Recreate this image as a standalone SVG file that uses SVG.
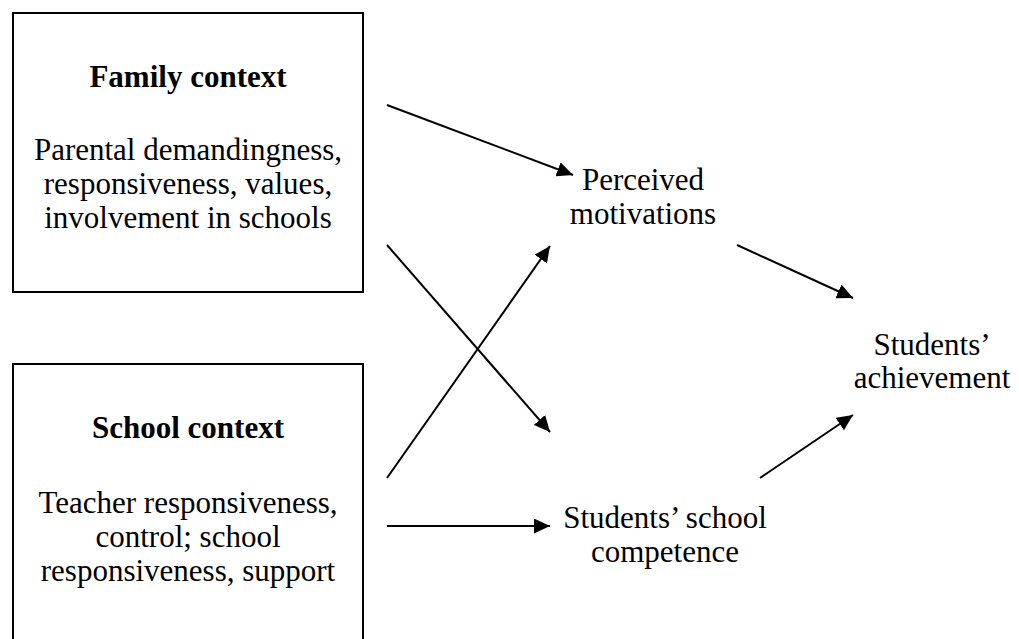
<svg xmlns="http://www.w3.org/2000/svg" width="1019" height="639" viewBox="0 0 1019 639">
  <style>
    .box { fill: #fff; stroke: #000; stroke-width: 2; }
    .t { font-family: "Liberation Serif", "Times New Roman", serif; font-size: 31px; fill: #000; text-anchor: middle; }
    .b { font-weight: bold; }
    .conn { stroke: #000; stroke-width: 2; fill: none; marker-end: url(#arrow); }
  </style>
  <defs>
    <marker id="arrow" markerUnits="userSpaceOnUse" markerWidth="17" markerHeight="15" refX="16" refY="7.5" orient="auto">
      <path d="M0,0 L16,7.5 L0,15 Z" fill="#000"/>
    </marker>
  </defs>
  <rect width="1019" height="639" fill="#fff"/>
  <g id="family">
    <rect class="box" x="13" y="13" width="350" height="279"/>
    <text class="t b" x="188" y="87">Family context</text>
    <text class="t" x="188" y="160">Parental demandingness,</text>
    <text class="t" x="188" y="194">responsiveness, values,</text>
    <text class="t" x="188" y="228">involvement in schools</text>
  </g>
  <g id="school">
    <rect class="box" x="13" y="364" width="350" height="290"/>
    <text class="t b" x="188" y="438">School context</text>
    <text class="t" x="188" y="513">Teacher responsiveness,</text>
    <text class="t" x="188" y="547">control; school</text>
    <text class="t" x="188" y="581">responsiveness, support</text>
  </g>
  <g id="motivations">
    <text class="t" x="643" y="190">Perceived</text>
    <text class="t" x="643" y="224">motivations</text>
  </g>
  <g id="competence">
    <text class="t" x="665" y="528">Students’ school</text>
    <text class="t" x="665" y="562">competence</text>
  </g>
  <g id="achievement">
    <text class="t" x="932" y="355">Students’</text>
    <text class="t" x="932" y="388">achievement</text>
  </g>
  <g id="connectors">
    <line class="conn" x1="387" y1="105" x2="573" y2="175"/>
    <line class="conn" x1="387" y1="245" x2="550" y2="432"/>
    <line class="conn" x1="387" y1="478" x2="550" y2="246"/>
    <line class="conn" x1="387" y1="526" x2="550" y2="526"/>
    <line class="conn" x1="737" y1="245" x2="853" y2="298"/>
    <line class="conn" x1="760" y1="478" x2="853" y2="415"/>
  </g>
</svg>
